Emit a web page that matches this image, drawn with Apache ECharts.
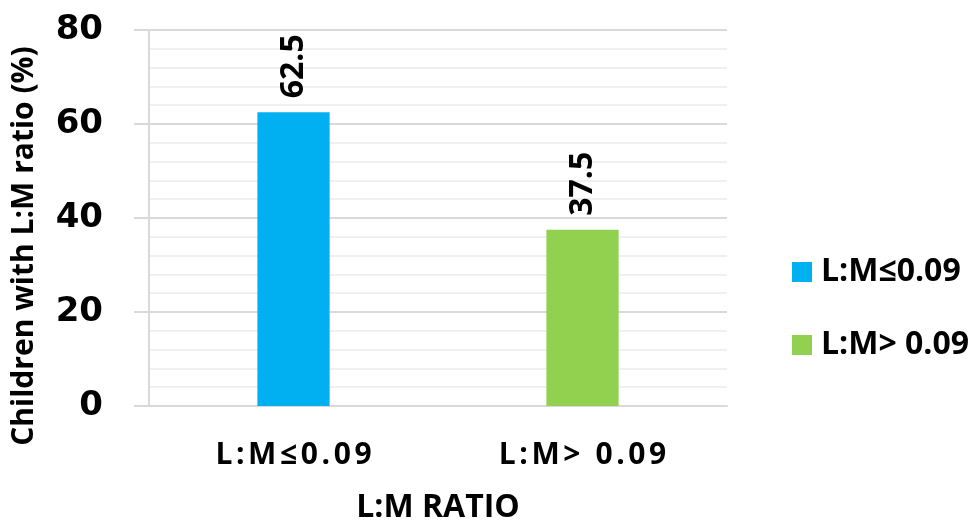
<!DOCTYPE html>
<html>
<head>
<meta charset="utf-8">
<script src="https://cdn.jsdelivr.net/npm/echarts@6/dist/echarts.min.js"></script>
<style>
  html, body { margin: 0; padding: 0; background: #fff; }
  #chart { width: 973px; height: 525px; }
</style>
</head>
<body>
<div id="chart"></div>
<script>
// L:M ratio groups and the share of children in each
const categories = ['L:M\u22640.09', 'L:M> 0.09'];
const seriesNames = ['L:M\u22640.09', 'L:M> 0.09'];
const percentValues = [62.5, 37.5];
const seriesColors = ['#00B0F0', '#92D050'];
const yTicks = [0, 20, 40, 60, 80];

const FONT = '"Open Sans", "DejaVu Sans", sans-serif';

// One series per group so the legend lists both; each bar sits in its own category
const series = seriesNames.map((name, i) => ({
  name: name,
  type: 'bar',
  stack: 'all',
  barWidth: '25%',
  data: categories.map((c, j) => (j === i ? percentValues[i] : '-')),
  itemStyle: { color: seriesColors[i] },
  label: {
    show: true,
    position: 'top',
    rotate: 90,
    align: 'left',
    verticalAlign: 'middle',
    distance: 14,
    color: '#000',
    fontFamily: FONT,
    fontWeight: 'bold',
    fontSize: 32,
    formatter: p => String(p.value)
  }
}));

// Category labels are drawn with a little extra spacing between characters
const spaced = v => v.split('').map(ch => '{c|' + ch + '}').join('');

const chart = echarts.init(document.getElementById('chart'), null, { renderer: 'canvas' });
chart.setOption({
  animation: false,
  backgroundColor: '#fff',
  grid: { left: 149, right: 246, top: 30, bottom: 119, containLabel: false, outerBoundsMode: 'none' },
  legend: {
    orient: 'vertical',
    left: 787,
    top: 251,
    itemWidth: 20,
    itemHeight: 20,
    itemGap: 41,
    icon: 'rect',
    textStyle: { color: '#000', fontFamily: FONT, fontWeight: 'bold', fontSize: 32, lineHeight: 32, padding: [0, 0, 0, 4] },
    data: seriesNames
  },
  xAxis: {
    type: 'category',
    data: categories,
    name: 'L:M RATIO',
    nameLocation: 'middle',
    nameGap: 86,
    nameTextStyle: { color: '#000', fontFamily: FONT, fontWeight: 'bold', fontSize: 32 },
    axisLine: { show: true, lineStyle: { color: '#d9d9d9', width: 2 } },
    axisTick: { show: false },
    axisLabel: {
      interval: 0,
      hideOverlap: false,
      color: '#000', fontFamily: FONT, fontWeight: 'bold', fontSize: 30, margin: 34,
      formatter: spaced,
      rich: { c: { color: '#000', fontFamily: FONT, fontWeight: 'bold', fontSize: 30, padding: [0, 1.8, 0, 1.8] } }
    }
  },
  yAxis: {
    type: 'value',
    min: yTicks[0],
    max: yTicks[yTicks.length - 1],
    interval: yTicks[1] - yTicks[0],
    name: 'Children with L:M ratio (%)',
    nameLocation: 'middle',
    nameRotate: 90,
    nameGap: 110,
    nameTextStyle: { color: '#000', fontFamily: FONT, fontWeight: 'bold', fontSize: 30, padding: [0, 56, 0, 0] },
    axisLine: { show: true, lineStyle: { color: '#d9d9d9', width: 2 } },
    axisTick: { show: true, length: 15, lineStyle: { color: '#d9d9d9', width: 2 } },
    axisLabel: { color: '#000', fontFamily: '"DejaVu Sans", sans-serif', fontWeight: 'bold', fontSize: 34, margin: 46 },
    splitLine: { show: true, lineStyle: { color: '#d9d9d9', width: 2 } },
    minorTick: { show: false, splitNumber: 5 },
    minorSplitLine: { show: true, lineStyle: { color: '#f0f0f0', width: 2 } }
  },
  series: series
});
</script>
</body>
</html>
